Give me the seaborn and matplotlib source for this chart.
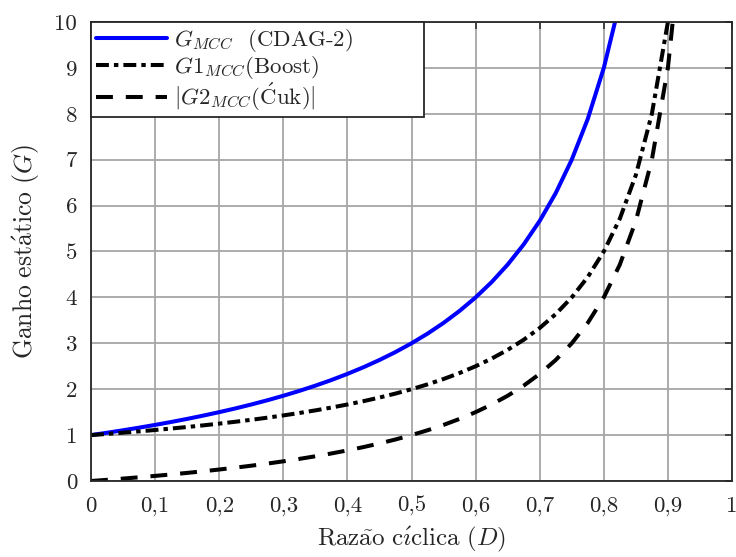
import matplotlib
matplotlib.use("Agg")
import matplotlib.pyplot as plt
import seaborn as sns
import pandas as pd

# Duty cycle samples and static gain of each converter
duty = [0.0, 0.025, 0.05, 0.075, 0.1, 0.125, 0.15, 0.175, 0.2, 0.225,
        0.25, 0.275, 0.3, 0.325, 0.35, 0.375, 0.4, 0.425, 0.45, 0.475,
        0.5, 0.525, 0.55, 0.575, 0.6, 0.625, 0.65, 0.675, 0.7, 0.725,
        0.75, 0.775, 0.8, 0.825, 0.85, 0.875, 0.9, 0.925]

gain_cdag = [1.0, 1.0513, 1.1053, 1.1622, 1.2222, 1.2857, 1.3529, 1.4242, 1.5, 1.5806,
             1.6667, 1.7586, 1.8571, 1.963, 2.0769, 2.2, 2.3333, 2.4783, 2.6364, 2.8095,
             3.0, 3.2105, 3.4444, 3.7059, 4.0, 4.3333, 4.7143, 5.1538, 5.6667, 6.2727,
             7.0, 7.8889, 9.0, 10.4286, 12.3333, 15.0, 19.0, 25.6667]

gain_boost = [1.0, 1.0256, 1.0526, 1.0811, 1.1111, 1.1429, 1.1765, 1.2121, 1.25, 1.2903,
              1.3333, 1.3793, 1.4286, 1.4815, 1.5385, 1.6, 1.6667, 1.7391, 1.8182, 1.9048,
              2.0, 2.1053, 2.2222, 2.3529, 2.5, 2.6667, 2.8571, 3.0769, 3.3333, 3.6364,
              4.0, 4.4444, 5.0, 5.7143, 6.6667, 8.0, 10.0, 13.3333]

gain_cuk = [0.0, 0.0256, 0.0526, 0.0811, 0.1111, 0.1429, 0.1765, 0.2121, 0.25, 0.2903,
            0.3333, 0.3793, 0.4286, 0.4815, 0.5385, 0.6, 0.6667, 0.7391, 0.8182, 0.9048,
            1.0, 1.1053, 1.2222, 1.3529, 1.5, 1.6667, 1.8571, 2.0769, 2.3333, 2.6364,
            3.0, 3.4444, 4.0, 4.7143, 5.6667, 7.0, 9.0, 12.3333]

series_labels = [r"$G_{MCC}$  (CDAG-2)",
                 r"$G1_{MCC}$(Boost)",
                 r"$|G2_{MCC}(\mathrm{\acute{C}uk})|$"]

x_ticks = [0.0, 0.1, 0.2, 0.3, 0.4, 0.5, 0.6, 0.7, 0.8, 0.9, 1.0]
x_tick_labels = ["0", "0,1", "0,2", "0,3", "0,4", "0,5", "0,6", "0,7", "0,8", "0,9", "1"]
y_ticks = list(range(0, 11))

sns.set_theme(style="white")
plt.rcParams["font.family"] = ["cmr10"]
plt.rcParams["mathtext.fontset"] = "cm"
plt.rcParams["axes.unicode_minus"] = False

df = pd.DataFrame({
    "D": duty * 3,
    "G": gain_cdag + gain_boost + gain_cuk,
    "serie": [series_labels[0]] * len(duty) + [series_labels[1]] * len(duty)
             + [series_labels[2]] * len(duty),
})

fig = plt.figure(figsize=(7.36, 5.57), dpi=100)
ax = fig.add_axes([91 / 736, 1 - 481 / 557, 641 / 736, 459 / 557])

lw = 2.9
sns.lineplot(data=df, x="D", y="G", hue="serie", style="serie",
             palette=["#0000ff", "black", "black"],
             dashes=["", (3.2, 1.25, 1.1, 1.25), (4.2, 3.2)],
             linewidth=lw, ax=ax, sort=False)

ax.set_xlim(0, 1)
ax.set_ylim(0, 10)
ax.set_xticks(x_ticks)
ax.set_xticklabels(x_tick_labels)
ax.set_yticks(y_ticks)
ax.set_yticklabels([str(v) for v in y_ticks])

ax.grid(True, color="#a6a6a6", linewidth=1.3)
ax.set_axisbelow(True)
for sp in ax.spines.values():
    sp.set_color("#262626")
    sp.set_linewidth(1.3)
ax.tick_params(direction="in", length=5, width=1.1, color="#262626",
               top=True, right=True, labelsize=16.5, labelcolor="#262626")
ax.tick_params(axis="x", pad=11)
ax.tick_params(axis="y", pad=10)

ax.set_xlabel(r"$\mathrm{Raz\tilde{a}o\ c\acute{\imath}clica}\ (D)$",
              fontsize=18, color="#262626", labelpad=6)
ax.set_ylabel(r"$\mathrm{Ganho\ est\acute{a}tico}\ (G)$",
              fontsize=18.5, color="#262626", labelpad=9)

# Legend box anchored to the top-left corner, stretched to its full width
leg = ax.legend(loc="upper left", bbox_to_anchor=(0, 1, 333 / 641, 0),
                mode="expand", borderaxespad=0,
                fancybox=False, framealpha=1, edgecolor="#262626",
                fontsize=16.5, handlelength=3.1, handletextpad=0.3,
                labelspacing=0.0, borderpad=0.2, title=None)
leg.get_frame().set_linewidth(1.3)
for h in leg.get_lines():
    h.set_linewidth(lw)

fig.savefig("out.png", dpi=100)
